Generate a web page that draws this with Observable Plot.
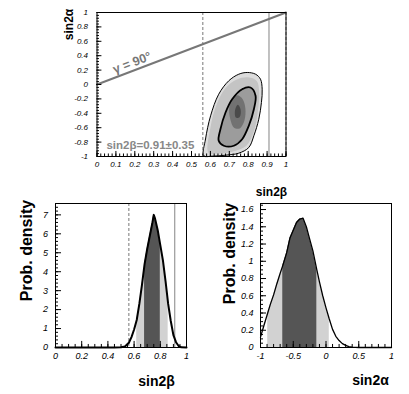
<!DOCTYPE html>
<html><head><meta charset="utf-8">
<script src="https://cdn.jsdelivr.net/npm/d3@7"></script>
<script src="https://cdn.jsdelivr.net/npm/@observablehq/plot@0.6"></script>
<style>
body{margin:0;background:#fff;}
#c{position:relative;width:409px;height:394px;background:#fff;overflow:hidden;}
#c svg{position:absolute;overflow:visible;background:transparent !important;}
g[aria-label$="tick label"] text{font-style:italic;}
</style></head><body><div id="c"></div>
<script>
// ---------- top panel: 2D likelihood (sin2beta, sin2alpha) ----------
const outerX = [0.565,0.574,0.601,0.644,0.697,0.750,0.795,0.839,0.865,0.874,0.870,0.856,0.830,0.803,0.750,0.680,0.610];
const outerY = [-0.99,-0.76,-0.435,-0.135,0.051,0.143,0.167,0.143,0.074,-0.065,-0.25,-0.482,-0.712,-0.875,-0.954,-0.982,-0.995];
const midX = [0.59,0.60,0.63,0.68,0.74,0.80,0.845,0.858,0.85,0.83,0.79,0.72,0.64];
const midY = [-0.95,-0.6,-0.3,-0.05,0.07,0.1,0.05,-0.1,-0.4,-0.65,-0.85,-0.93,-0.96];
const innerX = [0.812,0.768,0.715,0.680,0.653,0.644,0.671,0.724,0.768,0.803,0.830,0.839];
const innerY = [-0.042,-0.065,-0.204,-0.389,-0.621,-0.782,-0.851,-0.851,-0.760,-0.574,-0.343,-0.157];
const coreX = [0.742,0.77,0.785,0.78,0.755,0.725,0.705,0.70,0.715];
const coreY = [-0.15,-0.2,-0.33,-0.5,-0.61,-0.6,-0.48,-0.32,-0.2];
const peakX = [0.745,0.76,0.755,0.735,0.73];
const peakY = [-0.28,-0.35,-0.45,-0.46,-0.36];
const gammaX = [0, 1];
const gammaY = [0, 1];
const s2bCentral = 0.91, s2bLow = 0.56, s2bEdge = 1.0;
const topXTicks = [0,0.1,0.2,0.3,0.4,0.5,0.6,0.7,0.8,0.9,1];
const topYTicks = [-1,-0.8,-0.6,-0.4,-0.2,0,0.2,0.4,0.6,0.8,1];

// ---------- bottom-left: sin2beta density ----------
const betaX = [0,0.1,0.2,0.3,0.4,0.45,0.5,0.53,0.56,0.58,0.6,0.62,0.64,0.66,0.68,0.7,0.72,0.74,0.75,0.76,0.78,0.8,0.82,0.84,0.86,0.88,0.9,0.92,0.94,0.96,1.0];
const betaP = [0,0,0,0,0,0,0.01,0.05,0.25,0.55,0.95,1.45,2.3,3.3,4.4,5.2,5.9,6.6,7.0,6.8,6.2,5.4,4.6,3.5,2.3,1.4,0.65,0.28,0.08,0.01,0];
const betaLight = [0.62, 0.86];
const betaDark = [0.68, 0.80];
const blXTicks = [0,0.2,0.4,0.6,0.8,1];
const blYTicks = [0,1,2,3,4,5,6,7];

// ---------- bottom-right: sin2alpha density ----------
const alphaX = [-1,-0.95,-0.89,-0.85,-0.8,-0.75,-0.7,-0.66,-0.6,-0.55,-0.5,-0.45,-0.4,-0.35,-0.3,-0.25,-0.2,-0.14,-0.1,-0.05,0,0.05,0.1,0.15,0.2,0.25,0.3,0.35,0.4,0.5,0.6,0.8,1.0];
const alphaP = [0.12,0.25,0.4,0.5,0.61,0.74,0.86,0.95,1.1,1.27,1.36,1.45,1.49,1.5,1.4,1.26,1.12,0.9,0.76,0.6,0.46,0.33,0.21,0.13,0.08,0.045,0.025,0.01,0.005,0,0,0,0];
const alphaLight = [-0.89, 0.05];
const alphaDark = [-0.66, -0.14];
const brXTicks = [-1,-0.5,0,0.5,1];
const brYTicks = [0,0.2,0.4,0.6,0.8,1,1.2,1.4,1.6];

const FONT = "Liberation Sans, Arial, Helvetica, sans-serif";
const zip = (xs, ys) => xs.map((x, i) => ({x, y: ys[i]}));
const fmt = d => String(d);
const ctr = {textAnchor: "middle", lineAnchor: "middle"};

function place(svg, left, top) {
  svg.style.left = left + "px";
  svg.style.top = top + "px";
  document.getElementById("c").appendChild(svg);
}
// inward ticks, lengths given in data units
const ticksX = (vals, y0, len, w=1) => Plot.ruleX(vals, {x: d => d, y1: y0, y2: y0 + len, stroke: "black", strokeWidth: w});
const ticksY = (vals, x0, len, w=1) => Plot.ruleY(vals, {y: d => d, x1: x0, x2: x0 + len, stroke: "black", strokeWidth: w});
const rng = (a, b, s) => d3.range(Math.round((b - a) / s) + 1).map(i => +(a + i * s).toFixed(4));

// ===== top panel =====
{
  const svg = Plot.plot({
    width: 300, height: 200,
    marginLeft: 96.5, marginRight: 14.5, marginTop: 12, marginBottom: 44,
    x: {domain: [0, 1]},
    y: {domain: [-1, 1]},
    style: {fontFamily: FONT, background: "transparent", color: "black"},
    marks: [
      Plot.line(zip(outerX, outerY), {x: "x", y: "y", fill: "#dcdcdc", stroke: "none", curve: "catmull-rom-closed"}),
      Plot.line(zip(midX, midY), {x: "x", y: "y", fill: "#c4c4c4", stroke: "none", curve: "catmull-rom-closed"}),
      Plot.line(zip(innerX, innerY), {x: "x", y: "y", fill: "#9c9c9c", stroke: "none", curve: "catmull-rom-closed"}),
      Plot.line(zip(coreX, coreY), {x: "x", y: "y", fill: "#727272", stroke: "none", curve: "catmull-rom-closed"}),
      Plot.line(zip(peakX, peakY), {x: "x", y: "y", fill: "#4a4a4a", stroke: "none", curve: "catmull-rom-closed"}),
      Plot.line(zip(outerX, outerY), {x: "x", y: "y", stroke: "black", strokeWidth: 1, curve: "catmull-rom-closed"}),
      Plot.line(zip(innerX, innerY), {x: "x", y: "y", stroke: "black", strokeWidth: 1.8, curve: "catmull-rom-closed"}),
      Plot.ruleX([s2bLow], {stroke: "#777", strokeDasharray: "3,2"}),
      Plot.ruleX([s2bCentral], {stroke: "#999", strokeWidth: 1.2}),
      Plot.ruleX([s2bEdge], {stroke: "#777", strokeDasharray: "3,2"}),
      Plot.line(zip(gammaX, gammaY), {x: "x", y: "y", stroke: "#777", strokeWidth: 2}),
      Plot.text(["γ = 90°"], {x: 0.185, y: 0.3, ...ctr, text: d => d, rotate: -20.9, fill: "#777", fontSize: 12.5, fontWeight: "bold"}),
      Plot.text(["sin2β=0.91±0.35"], {x: 0.05, y: -0.85, text: d => d, textAnchor: "start", fill: "#888", fontSize: 11.5, fontWeight: "bold"}),
      ticksX(rng(0, 1, 0.02), -1, 0.035),
      ticksX(topXTicks, -1, 0.07),
      ticksY(rng(-1, 1, 0.04), 0, 0.013),
      ticksY(topYTicks, 0, 0.026),
      Plot.frame({stroke: "black"}),
      Plot.axisX({ticks: topXTicks, tickSize: 0, tickPadding: 5, tickFormat: fmt, fontSize: 8, fontStyle: "italic", label: null}),
      Plot.axisY({ticks: topYTicks, tickSize: 0, tickPadding: 9, tickFormat: fmt, fontSize: 8, fontStyle: "italic", label: null}),
      Plot.text(["sin2α"], {frameAnchor: "top-left", ...ctr, dx: -27.5, dy: 12, rotate: -90, text: d => d, fontSize: 12, fontWeight: "bold"}),
      Plot.text(["sin2β"], {frameAnchor: "bottom-right", ...ctr, dx: -14.5, dy: 36, text: d => d, fontSize: 12, fontWeight: "bold"})
    ]
  });
  place(svg, 0, 0);
}

// ===== bottom-left: sin2beta =====
{
  const data = zip(betaX, betaP);
  const svg = Plot.plot({
    width: 205, height: 204,
    marginLeft: 55, marginRight: 19, marginTop: 13, marginBottom: 47,
    x: {domain: [0, 1]},
    y: {domain: [0, 7.6]},
    style: {fontFamily: FONT, background: "transparent", color: "black"},
    marks: [
      Plot.areaY(data.filter(d => d.x >= betaLight[0] && d.x <= betaLight[1]), {x: "x", y: "y", fill: "#d2d2d2"}),
      Plot.areaY(data.filter(d => d.x >= betaDark[0] && d.x <= betaDark[1]), {x: "x", y: "y", fill: "#555"}),
      Plot.ruleX([s2bLow], {stroke: "#777", strokeDasharray: "3,2"}),
      Plot.ruleX([s2bCentral], {stroke: "#999", strokeWidth: 1.2}),
      Plot.ruleX([s2bEdge], {stroke: "#777", strokeDasharray: "3,2"}),
      Plot.line(data, {x: "x", y: "y", stroke: "black", strokeWidth: 2}),
      ticksX(rng(0, 1, 0.05), 0, 0.16),
      ticksX(blXTicks, 0, 0.32),
      ticksY(rng(0, 7.6, 0.2), 0, 0.023),
      ticksY(blYTicks, 0, 0.046),
      Plot.frame({stroke: "black"}),
      Plot.axisX({ticks: blXTicks, tickSize: 0, tickPadding: 5, tickFormat: fmt, fontSize: 9, fontStyle: "italic", label: null}),
      Plot.axisY({ticks: blYTicks, tickSize: 0, tickPadding: 7.5, tickFormat: fmt, fontSize: 9, fontStyle: "italic", label: null}),
      Plot.text(["Prob. density"], {frameAnchor: "left", ...ctr, dx: -29, dy: -25, rotate: -90, text: d => d, fontSize: 16, fontWeight: "bold"}),
      Plot.text(["sin2β"], {frameAnchor: "bottom-right", ...ctr, dx: -30, dy: 34, text: d => d, fontSize: 14, fontWeight: "bold"})
    ]
  });
  place(svg, 0, 190);
}

// ===== bottom-right: sin2alpha =====
{
  const data = zip(alphaX, alphaP);
  const svg = Plot.plot({
    width: 204, height: 204,
    marginLeft: 55, marginRight: 18, marginTop: 13, marginBottom: 47,
    x: {domain: [-1, 1]},
    y: {domain: [0, 1.67]},
    style: {fontFamily: FONT, background: "transparent", color: "black"},
    marks: [
      Plot.areaY(data.filter(d => d.x >= alphaLight[0] && d.x <= alphaLight[1]), {x: "x", y: "y", fill: "#d2d2d2"}),
      Plot.areaY(data.filter(d => d.x >= alphaDark[0] && d.x <= alphaDark[1]), {x: "x", y: "y", fill: "#555"}),
      Plot.line(data, {x: "x", y: "y", stroke: "black", strokeWidth: 1.3}),
      ticksX(rng(-1, 1, 0.1), 0, 0.035),
      ticksX(brXTicks, 0, 0.07),
      ticksY(rng(0, 1.65, 0.05), -1, 0.046),
      ticksY(brYTicks, -1, 0.092),
      Plot.frame({stroke: "black"}),
      Plot.axisX({ticks: brXTicks, tickSize: 0, tickPadding: 5, tickFormat: fmt, fontSize: 9, fontStyle: "italic", label: null}),
      Plot.axisY({ticks: brYTicks, tickSize: 0, tickPadding: 7, tickFormat: fmt, fontSize: 9, fontStyle: "italic", label: null}),
      Plot.text(["Prob. density"], {frameAnchor: "left", ...ctr, dx: -31, dy: -22, rotate: -90, text: d => d, fontSize: 16, fontWeight: "bold"}),
      Plot.text(["sin2α"], {frameAnchor: "bottom-right", ...ctr, dx: -21, dy: 33, text: d => d, fontSize: 14, fontWeight: "bold"})
    ]
  });
  place(svg, 205, 190);
}
</script></body></html>
